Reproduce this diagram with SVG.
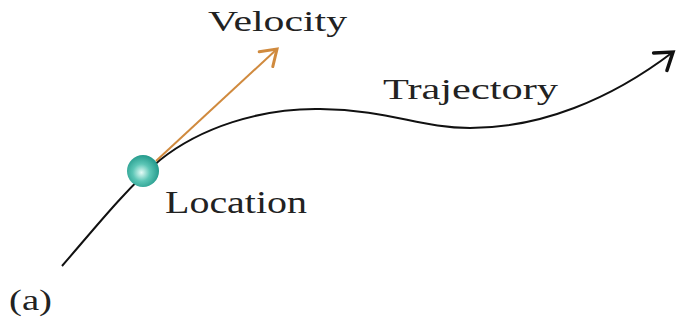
<svg xmlns="http://www.w3.org/2000/svg" width="679" height="320" viewBox="0 0 679 320">
<style>
.lbl{font-family:"Liberation Serif","Times New Roman",serif;fill:#222;}
.traj{fill:none;stroke:#111;stroke-width:2;}
.vel{fill:none;stroke:#d08a3e;stroke-width:2;}
</style>
<defs>
<radialGradient id="ballg" cx="0.45" cy="0.55" r="0.6">
<stop offset="0" stop-color="#e4fbf6"/>
<stop offset="0.45" stop-color="#5cc6b6"/>
<stop offset="1" stop-color="#1b9385"/>
</radialGradient>
<marker id="blackHead" markerUnits="userSpaceOnUse" markerWidth="30" markerHeight="30" refX="20" refY="10" orient="auto" overflow="visible">
<polyline points="4,-1 20,10 4,21" fill="none" stroke="#111" stroke-width="3.5" stroke-linejoin="miter" stroke-linecap="round"/>
</marker>
<marker id="orangeHead" markerUnits="userSpaceOnUse" markerWidth="30" markerHeight="30" refX="20" refY="10" orient="auto" overflow="visible">
<polyline points="5,0 20,10 5,20" fill="none" stroke="#d08a3e" stroke-width="3" stroke-linejoin="miter" stroke-linecap="round"/>
</marker>
</defs>
<g id="connectors">
<path id="trajectory-path" class="traj" d="M62,266 C95,228 125,190 160,160 C200,128 260,108 320,109 C390,110 420,128 470,128 C540,128 610,100 673,52" marker-end="url(#blackHead)"/>
<line id="velocity-arrow" class="vel" x1="156" y1="161" x2="277" y2="49" marker-end="url(#orangeHead)"/>
</g>
<g id="location-node">
<circle cx="143" cy="171" r="16" fill="url(#ballg)"/>
<text class="lbl" x="165" y="213" font-size="31" textLength="142" lengthAdjust="spacingAndGlyphs">Location</text>
</g>
<g id="velocity-label">
<text class="lbl" x="208" y="31" font-size="29" textLength="139" lengthAdjust="spacingAndGlyphs">Velocity</text>
</g>
<g id="trajectory-label">
<text class="lbl" x="383" y="99" font-size="29" textLength="175" lengthAdjust="spacingAndGlyphs">Trajectory</text>
</g>
<g id="caption">
<text class="lbl" x="9" y="310" font-size="29" textLength="43" lengthAdjust="spacingAndGlyphs">(a)</text>
</g>
</svg>
